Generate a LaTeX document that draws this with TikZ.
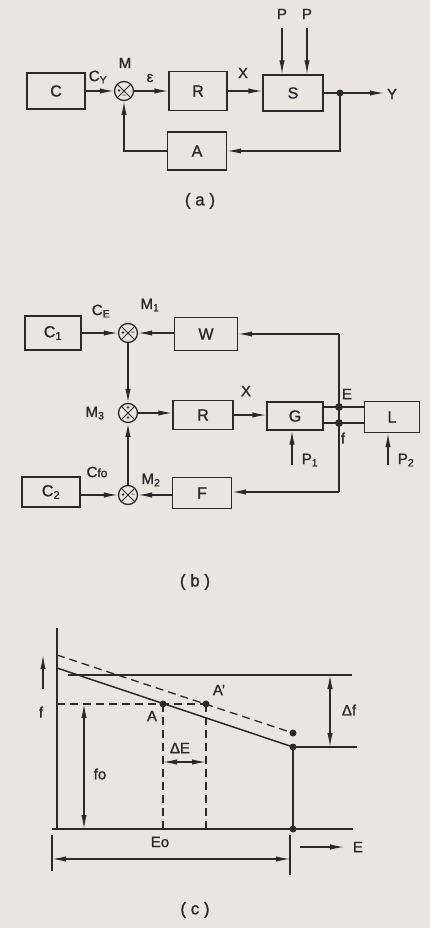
\documentclass[tikz,border=0pt]{standalone}
\usepackage{fontspec}
\setmainfont{Liberation Sans}[FakeBold=1.2]
\usetikzlibrary{arrows.meta,calc}
\definecolor{bg}{HTML}{E9E6E2}
\definecolor{ink}{HTML}{2A2A2A}
\begin{document}
\begin{tikzpicture}[x=1pt,y=-1pt,
  every node/.style={text=ink},
  blk/.style={draw=ink, line width=1.3pt, inner sep=0pt, font=\fontsize{16}{16}\selectfont},
  sumj/.style={circle, draw=ink, line width=1.3pt, minimum size=19pt, inner sep=0pt,
    path picture={\draw[ink, line width=0.9pt]
      (path picture bounding box.north west) -- (path picture bounding box.south east)
      (path picture bounding box.north east) -- (path picture bounding box.south west);}},
  lbl/.style={font=\fontsize{15}{15}\selectfont, inner sep=0pt},
  sgn/.style={font=\fontsize{6}{6}\selectfont, inner sep=0pt},
  captxt/.style={font=\fontsize{17}{17}\selectfont, inner sep=0pt},
  ln/.style={draw=ink, line width=1.3pt},
  arr/.style={ln, -{Latex[length=14pt,width=5.4pt]}},
  darr/.style={ln, {Latex[length=14pt,width=5.4pt]}-{Latex[length=14pt,width=5.4pt]}},
  dsh/.style={ln, dash pattern=on 8pt off 5pt},
  dot/.style={circle, fill=ink, inner sep=0pt, minimum size=7pt}
]
\fill[bg] (0,0) rectangle (430,928);
\useasboundingbox (0,0) rectangle (430,928);

% ---------------- (a) ----------------
\node[blk, minimum width=58pt, minimum height=36pt] (C) at (56,91) {C};
\node[sumj] (M) at (124,91) {};
\node[sgn] at ($(M)+(-5,0)$) {+};
\node[sgn] at ($(M)+(0,5)$) {−};
\node[blk, minimum width=58pt, minimum height=39pt] (R) at (198,91) {R};
\node[blk, minimum width=60pt, minimum height=36pt] (S) at (293,93) {S};
\node[blk, minimum width=59pt, minimum height=38pt] (A) at (197,151) {A};
\coordinate (d1) at (340,93);
\coordinate (Yend) at (384,93);
\coordinate (Pa) at (282,28);
\coordinate (Pb) at (307,28);
\draw[arr] (C) -- (M);
\draw[arr] (M) -- (R);
\draw[arr] (R.east) -- (R.east -| S.west);
\draw[arr] (S.east |- d1) -- (Yend);
\draw[arr] (d1) |- (A.east);
\draw[arr] (A.west) -| (M.south);
\draw[arr] (Pa) -- (Pa |- S.north);
\draw[arr] (Pb) -- (Pb |- S.north);
\node[dot] at (d1) {};
\node[lbl] at (98,77) {C\textsubscript{Y}};
\node[lbl] at (125,63) {M};
\node[lbl] at (150,78) {ε};
\node[lbl] at (243,73) {X};
\node[lbl] at (282,14) {P};
\node[lbl] at (307,14) {P};
\node[lbl] at (392,94) {Y};
\node[captxt] at (200,201) {( a )};

% ---------------- (b) ----------------
\node[blk, minimum width=56pt, minimum height=34pt] (C1) at (53,333) {C\textsubscript{1}};
\node[sumj] (M1) at (128,333) {};
\node[sgn] at ($(M1)+(-5,0)$) {+};
\node[sgn] at ($(M1)+(5,0)$) {−};
\node[blk, minimum width=63pt, minimum height=33pt] (W) at (206,334) {W};
\node[sumj] (M3) at (128,413) {};
\node[sgn] at ($(M3)+(0,-5)$) {+};
\node[sgn] at ($(M3)+(0,5)$) {+};
\node[blk, minimum width=60pt, minimum height=29pt] (R2) at (203,415) {R};
\node[blk, minimum width=56pt, minimum height=28pt] (G) at (295,416) {G};
\node[blk, minimum width=55pt, minimum height=31pt] (L) at (392,417) {L};
\node[blk, minimum width=58pt, minimum height=30pt] (C2) at (51,492) {C\textsubscript{2}};
\node[sumj] (M2) at (128,495) {};
\node[sgn] at ($(M2)+(-5,0)$) {+};
\node[sgn] at ($(M2)+(5,0)$) {−};
\node[blk, minimum width=59pt, minimum height=31pt] (F) at (202,493) {F};
\coordinate (jE) at (339,407);
\coordinate (jf) at (339,423);
\coordinate (top) at (339,334);
\coordinate (bot) at (339,492);
\coordinate (P1s) at (292,465);
\coordinate (P2s) at (388,465);
\draw[ln] (G.east |- jE) -- (L.west |- jE);
\draw[ln] (G.east |- jf) -- (L.west |- jf);
\draw[ln] (top) -- (bot);
\draw[arr] (top) -- (W.east |- top);
\draw[arr] (bot) -- (F.east |- bot);
\draw[arr] (C1) -- (M1);
\draw[arr] (W.west |- M1) -- (M1);
\draw[arr] (M1) -- (M3);
\draw[arr] (M2) -- (M3);
\draw[arr] (M3) -- (M3 -| R2.west);
\draw[arr] (R2.east) -- (R2.east -| G.west);
\draw[arr] (C2.east |- M2) -- (M2);
\draw[arr] (F.west |- M2) -- (M2);
\draw[arr] (P1s) -- (P1s |- G.south);
\draw[arr] (P2s) -- (P2s |- L.south);
\draw[ln, fill=ink] (jE) circle (3.2);
\draw[ln, fill=ink] (jf) circle (3.2);
\node[lbl] at (101,311) {C\textsubscript{E}};
\node[lbl] at (150,305) {M\textsubscript{1}};
\node[lbl] at (95,413) {M\textsubscript{3}};
\node[lbl] at (246,391) {X};
\node[lbl] at (347,394) {E};
\node[lbl] at (343,438) {f};
\node[lbl] at (310,460) {P\textsubscript{1}};
\node[lbl] at (406,460) {P\textsubscript{2}};
\node[lbl] at (97,472) {C{\fontsize{12}{12}\selectfont fo}};
\node[lbl] at (151,480) {M\textsubscript{2}};
\node[captxt] at (195,582) {( b )};

% ---------------- (c) ----------------
\coordinate (O) at (57,829);
\coordinate (ytop) at (57,628);
\coordinate (xend) at (353,829);
\coordinate (s0) at (57,668);
\coordinate (s1) at (293,747);
\coordinate (d0) at (57,655);
\coordinate (dd1) at (293,733);
\coordinate (Ap) at (163,704);
\coordinate (App) at (206,704);
\coordinate (b0) at (293,829);
\coordinate (dEy) at (0,762);
\draw[ln] (ytop) -- (O);
\draw[ln] (52,829) -- (xend);
\draw[ln, line width=1.5pt] (s0) -- (s1);
\draw[dsh] (d0) -- (dd1);
\draw[ln] (68,675) -- (352,675);
\draw[ln] (s1) -- (357,747);
\draw[ln] (s1) -- (b0);
\draw[dsh] (57,704) -- (App);
\draw[dsh] (Ap) -- (Ap |- O);
\draw[dsh] (App) -- (App |- O);
\draw[arr] (43,689) -- (43,655);
\draw[darr] (330,675) -- (330,747);
\draw[darr] (84,704) -- (84,829);
\draw[darr] (Ap |- dEy) -- (App |- dEy);
\draw[ln] (52,835) -- (52,871);
\draw[ln] (290,835) -- (290,875);
\draw[darr] (52,859) -- (290,859);
\draw[arr] (300,847) -- (344,847);
\node[dot] at (Ap) {};
\node[dot] at (App) {};
\node[dot] at (dd1) {};
\node[dot] at (s1) {};
\node[dot] at (b0) {};
\node[lbl] at (41,712) {f};
\node[lbl] at (152,716) {A};
\node[lbl] at (219,690) {A'};
\node[lbl] at (349,710) {Δf};
\node[lbl] at (180,748) {ΔE};
\node[lbl] at (100,774) {fo};
\node[lbl] at (160,842) {Eo};
\node[lbl] at (358,847) {E};
\node[captxt] at (195,910) {( c )};
\end{tikzpicture}
\end{document}
